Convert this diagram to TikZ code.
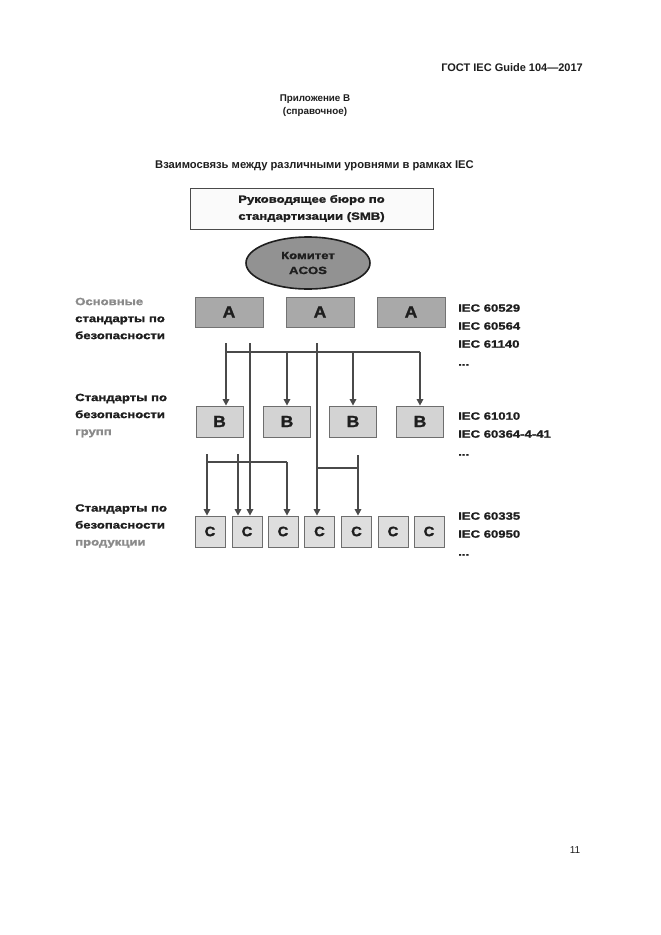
\documentclass[tikz,border=0pt]{standalone}
\usepackage{fontspec}
\setmainfont{Liberation Sans}
\newfontfamily\dia{Liberation Sans Bold}[FakeStretch=1.25,FakeBold=1.5]
\newfontfamily\dib{Liberation Sans Bold}[FakeStretch=1.1,FakeBold=1.5]
\usetikzlibrary{arrows.meta,shapes.geometric}
\definecolor{lnc}{HTML}{4A4A4A}
\definecolor{txt}{HTML}{1E1E1E}
\definecolor{lgray}{HTML}{8A8A8A}
\definecolor{afill}{HTML}{A9A9A9}
\definecolor{bfill}{HTML}{D3D3D3}
\definecolor{cfill}{HTML}{DEDEDE}
\definecolor{efill}{HTML}{929292}
\tikzset{
  ln/.style={draw=lnc, line width=1.5pt},
  arr/.style={ln, -{Triangle[length=6.5pt,width=6.5pt]}},
  abox/.style={draw=gray!90!black, line width=0.8pt, fill=afill, minimum width=68pt, minimum height=30pt, inner sep=0pt, font=\dib\fontsize{16}{18}\selectfont, text=txt},
  bbox/.style={draw=lnc!80, line width=0.8pt, fill=bfill, minimum width=47pt, minimum height=31pt, inner sep=0pt, font=\dib\fontsize{16}{18}\selectfont, text=txt},
  cbox/.style={draw=lnc!80, line width=0.8pt, fill=cfill, minimum width=30pt, minimum height=31pt, inner sep=0pt, font=\dib\fontsize{13.5}{15}\selectfont, text=txt},
  lbl/.style={anchor=west, align=left, inner sep=0pt, font=\dia\fontsize{10.5}{17}\selectfont, text=txt},
  iec/.style={anchor=west, align=left, inner sep=0pt, font=\dia\fontsize{10.5}{18}\selectfont, text=txt},
}
\begin{document}
\begin{tikzpicture}[x=1pt,y=-1pt]
\useasboundingbox[fill=white] (0,0) rectangle (661,935);
% page texts
\node[anchor=east, inner sep=0pt, font=\bfseries\fontsize{11}{12}\selectfont, text=txt] (hdr) at (583,68) {ГОСТ IEC Guide 104—2017};
\node[align=center, inner sep=0pt, font=\bfseries\fontsize{9.8}{13}\selectfont, text=txt] (app) at (315,105.5) {Приложение В\\(справочное)};
\node[inner sep=0pt, font=\bfseries\fontsize{11.2}{12}\selectfont, text=txt] (ttl) at (314.5,166) {Взаимосвязь между различными уровнями в рамках IEC};
\node[inner sep=0pt, font=\fontsize{10}{11}\selectfont, text=txt] (pg) at (575,850) {11};
% top
\node[draw=lnc, line width=0.8pt, fill=white!96!gray, minimum width=243pt, minimum height=41pt, inner sep=0pt, align=center, font=\dia\fontsize{10.5}{17}\selectfont, text=txt] (smb) at (311.5,208.5) {Руководящее бюро по\\стандартизации (SMB)};
\node[ellipse, draw=txt, line width=1.6pt, fill=efill, minimum width=124pt, minimum height=52pt, inner sep=0pt, align=center, font=\dia\fontsize{10.5}{15}\selectfont, text=txt] (acos) at (308,263) {Комитет\\ACOS};
% A
\node[abox] (A1) at (229,312) {A};
\node[abox] (A2) at (320,312) {A};
\node[abox] (A3) at (411,312) {A};
% B
\node[bbox] (B1) at (219.5,421.5) {B};
\node[bbox] (B2) at (287,421.5) {B};
\node[bbox] (B3) at (353,421.5) {B};
\node[bbox] (B4) at (420,421.5) {B};
% C
\node[cbox] (C1) at (210,531.5) {C};
\node[cbox] (C2) at (247,531.5) {C};
\node[cbox] (C3) at (283,531.5) {C};
\node[cbox] (C4) at (319.5,531.5) {C};
\node[cbox] (C5) at (356.5,531.5) {C};
\node[cbox] (C6) at (393,531.5) {C};
\node[cbox] (C7) at (429,531.5) {C};
% left labels
\node[lbl] (L1) at (75,318.5) {{\color{lgray}Основные}\\стандарты по\\безопасности};
\node[lbl] (L2) at (75,415.5) {Стандарты по\\безопасности\\{\color{lgray}групп}};
\node[lbl] (L3) at (75,526) {Стандарты по\\безопасности\\{\color{lgray}продукции}};
% right labels
\node[iec] (R1) at (458,335) {IEC 60529\\IEC 60564\\IEC 61140\\...};
\node[iec] (R2) at (458,434) {IEC 61010\\IEC 60364-4-41\\...};
\node[iec] (R3) at (458,534) {IEC 60335\\IEC 60950\\...};
% connectors A -> B
\coordinate (t1) at (226,343);
\coordinate (t2) at (250,343);
\coordinate (t3) at (317,343);
\coordinate (j1) at (226,352);
\coordinate (j4) at (420,352);
\draw[ln] (j1) -- (j4);
\draw[arr] (t1) -- (t1 |- B1.north);
\draw[arr] (B2.north |- j4) -- (B2.north);
\draw[arr] (B3.north |- j4) -- (B3.north);
\draw[arr] (j4) -- (j4 |- B4.north);
\draw[arr] (t2) -- (t2 |- C2.north);
\draw[arr] (t3) -- (t3 |- C4.north);
% connectors B -> C
\coordinate (u1) at (207,454);
\coordinate (u2) at (238,454);
\coordinate (u3) at (358,455);
\coordinate (k1) at (207,462);
\coordinate (k3) at (287,462);
\coordinate (m1) at (317,468);
\coordinate (m2) at (358,468);
\draw[ln] (k1) -- (k3);
\draw[arr] (u1) -- (u1 |- C1.north);
\draw[arr] (u2) -- (u2 |- C2.north);
\draw[arr] (k3) -- (k3 |- C3.north);
\draw[ln] (m1) -- (m2);
\draw[arr] (u3) -- (u3 |- C5.north);
\end{tikzpicture}
\end{document}
